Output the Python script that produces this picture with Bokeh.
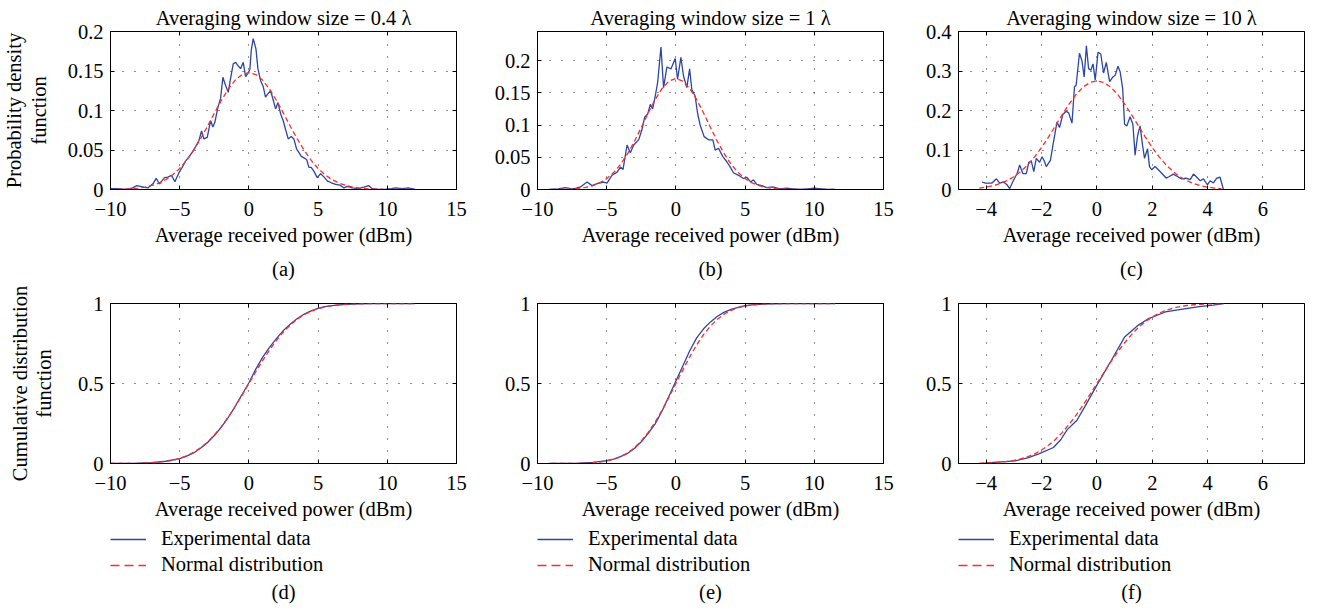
from bokeh.plotting import figure
from bokeh.models import Range1d, FixedTicker, LinearAxis, Legend, LegendItem, Label
from bokeh.layouts import column, row
from bokeh.embed import file_html
from bokeh.resources import INLINE

# ---------------- data ----------------
# (a) PDF, window 0.4 lambda
pdf_a_x = [-10, -9.5, -8.8, -8.4, -8.1, -7.6, -7.3, -6.9, -6.7, -6.45, -6.1, -5.86, -5.59, -5.35, -5.06,
           -4.82, -4.58, -4.34, -4.1, -3.86, -3.61, -3.42, -3.25, -3.01, -2.77, -2.6, -2.46, -2.24, -2.05,
           -1.88, -1.69, -1.49, -1.33, -1.13, -0.96, -0.8, -0.6, -0.41, -0.24, -0.07, 0.07, 0.17, 0.31,
           0.51, 0.65, 0.84, 1.04, 1.2, 1.37, 1.57, 1.76, 1.93, 2.1, 2.29, 2.48, 2.65, 2.84, 3.06, 3.25,
           3.45, 3.61, 3.78, 3.98, 4.17, 4.34, 4.5, 4.7, 4.94, 5.18, 5.42, 5.66, 5.95, 6.27, 6.58, 6.87,
           7.1, 7.47, 7.9, 8.3, 8.65, 8.9, 9.4, 9.9, 10.3, 10.6, 11.1, 11.5, 12.0]
pdf_a_y = [0.001, 0.001, 0.0, 0.002, 0.005, 0.003, 0.002, 0.008, 0.014, 0.007, 0.015, 0.0157, 0.018, 0.0098, 0.021,
           0.028, 0.036, 0.041, 0.047, 0.054, 0.062, 0.074, 0.064, 0.066, 0.087, 0.079, 0.085, 0.104, 0.115,
           0.142, 0.132, 0.123, 0.140, 0.159, 0.161, 0.157, 0.153, 0.161, 0.143, 0.147, 0.152, 0.176, 0.191,
           0.178, 0.153, 0.138, 0.130, 0.117, 0.121, 0.125, 0.113, 0.102, 0.110, 0.096, 0.087, 0.076, 0.064, 0.067, 0.064,
           0.051, 0.047, 0.042, 0.040, 0.038, 0.028, 0.028, 0.023, 0.015, 0.020, 0.016, 0.011, 0.0085, 0.0064, 0.0055, 0.002,
           0.004, 0.002, 0.001, 0.003, 0.005, 0.001, 0.0, 0.0005, 0.001, 0.002, 0.001, 0.002, 0.0]
norm_a_x = [-9.5, -9, -8.5, -8, -7.5, -7, -6.5, -6, -5.5, -5, -4.5, -4, -3.5, -3, -2.5, -2, -1.5, -1, -0.5, 0,
            0.5, 1, 1.5, 2, 2.5, 3, 3.5, 4, 4.5, 5, 5.5, 6, 6.5, 7, 7.5, 8, 8.5, 9, 9.5, 10, 10.5, 11, 11.5, 12]
norm_a_y = [0.0003, 0.0006, 0.0010, 0.0018, 0.0031, 0.0051, 0.0082, 0.0125, 0.0186, 0.0266, 0.0369, 0.0494,
            0.0639, 0.0798, 0.0964, 0.1125, 0.1268, 0.1382, 0.1455, 0.148,
            0.1455, 0.1382, 0.1268, 0.1125, 0.0964, 0.0798, 0.0639, 0.0494, 0.0369, 0.0266, 0.0186, 0.0125,
            0.0082, 0.0051, 0.0031, 0.0018, 0.0010, 0.0006, 0.0003, 0.0002, 0.0001, 0.0, 0.0, 0.0]

# (b) PDF, window 1 lambda
pdf_b_x = [-9.2, -8.5, -8.0, -7.5, -7.2, -6.9, -6.42, -6.06, -5.58, -5.22, -4.98, -4.62, -4.25, -4.0, -3.82,
           -3.53, -3.29, -3.05, -2.69, -2.45, -2.26, -2.04, -1.85, -1.68, -1.49, -1.32, -1.08, -0.89, -0.65,
           -0.36, -0.05, 0.12, 0.36, 0.55, 0.79, 0.99, 1.15, 1.39, 1.56, 1.75, 2.04, 2.36, 2.67, 2.84, 3.08,
           3.39, 3.68, 3.92, 4.16, 4.52, 4.88, 5.12, 5.41, 5.6, 5.84, 6.2, 6.56, 7.0, 7.5, 8.0, 8.5, 9.0,
           9.5, 10.0, 10.5, 11.0, 11.5]
pdf_b_y = [0.0, 0.001, 0.003, 0.001, 0.002, 0.004, 0.0115, 0.006, 0.010, 0.0115, 0.010, 0.022, 0.027, 0.035, 0.031,
           0.069, 0.057, 0.069, 0.077, 0.093, 0.112, 0.117, 0.132, 0.125, 0.145, 0.166, 0.221, 0.158, 0.190,
           0.187, 0.203, 0.171, 0.205, 0.176, 0.158, 0.187, 0.155, 0.145, 0.119, 0.100, 0.082, 0.077, 0.077, 0.061, 0.064,
           0.051, 0.043, 0.035, 0.026, 0.022, 0.017, 0.019, 0.0115, 0.015, 0.008, 0.006, 0.003, 0.004, 0.001, 0.002, 0.001, 0.0,
           0.001, 0.002, 0.001, 0.0, 0.0]
norm_b_x = [-9, -8.5, -8, -7.5, -7, -6.5, -6, -5.5, -5, -4.5, -4, -3.5, -3, -2.5, -2, -1.5, -1, -0.5, 0,
            0.5, 1, 1.5, 2, 2.5, 3, 3.5, 4, 4.5, 5, 5.5, 6, 6.5, 7, 7.5, 8, 8.5, 9, 9.5, 10, 10.5, 11, 11.5]
norm_b_y = [0.0001, 0.0002, 0.0004, 0.0009, 0.0018, 0.0034, 0.0061, 0.0103, 0.0169, 0.0262, 0.0389, 0.0551,
            0.0745, 0.0962, 0.1186, 0.1395, 0.1567, 0.1681, 0.172,
            0.1681, 0.1567, 0.1395, 0.1186, 0.0962, 0.0745, 0.0551, 0.0389, 0.0262, 0.0169, 0.0103, 0.0061,
            0.0034, 0.0018, 0.0009, 0.0004, 0.0002, 0.0001, 0.0, 0.0, 0.0, 0.0, 0.0]

# (c) PDF, window 10 lambda
pdf_c_x = [-4.15, -4.03, -3.79, -3.63, -3.51, -3.37, -3.25, -3.15, -3.03, -2.88, -2.79, -2.67, -2.55, -2.46,
           -2.37, -2.28, -2.19, -2.07, -1.98, -1.9, -1.83, -1.68, -1.56, -1.44, -1.35, -1.23, -1.11, -1.02,
           -0.9, -0.81, -0.75, -0.63, -0.54, -0.46, -0.38, -0.3, -0.22, -0.14, -0.06, 0.04, 0.14, 0.24, 0.34,
           0.46, 0.58, 0.66, 0.76, 0.84, 0.93, 1.0, 1.08, 1.2, 1.3, 1.38, 1.47, 1.56, 1.65, 1.72, 1.83, 1.9,
           1.98, 2.1, 2.22, 2.34, 2.5, 2.62, 2.76, 2.91, 3.06, 3.22, 3.37, 3.49, 3.61, 3.73, 3.85, 3.99, 4.09,
           4.21, 4.33, 4.45, 4.57]
pdf_c_y = [0.019, 0.016, 0.0165, 0.027, 0.016, 0.019, 0.012, 0.0025, 0.021, 0.041, 0.062, 0.040, 0.040, 0.069,
           0.072, 0.045, 0.079, 0.069, 0.083, 0.072, 0.058, 0.074, 0.124, 0.171, 0.157, 0.190, 0.198, 0.194,
           0.168, 0.260, 0.264, 0.345, 0.326, 0.285, 0.364, 0.306, 0.302, 0.318, 0.277, 0.347, 0.343, 0.295, 0.322,
           0.273, 0.285, 0.289, 0.312, 0.298, 0.256, 0.165, 0.161, 0.184, 0.165, 0.087, 0.136, 0.161, 0.112, 0.079, 0.103, 0.058,
           0.050, 0.058, 0.050, 0.041, 0.029, 0.033, 0.039, 0.033, 0.027, 0.029, 0.025, 0.039, 0.031, 0.022, 0.027, 0.012, 0.022,
           0.0165, 0.029, 0.031, 0.0]
norm_c_x = [-4.25, -4, -3.75, -3.5, -3.25, -3, -2.75, -2.5, -2.25, -2, -1.75, -1.5, -1.25, -1, -0.75, -0.5, -0.25, 0,
            0.25, 0.5, 0.75, 1, 1.25, 1.5, 1.75, 2, 2.25, 2.5, 2.75, 3, 3.25, 3.5, 3.75, 4, 4.25, 4.5]
norm_c_y = [0.0037, 0.0061, 0.0097, 0.0149, 0.0223, 0.0323, 0.0455, 0.0622, 0.0825, 0.1062, 0.1327, 0.1610,
            0.1896, 0.2168, 0.2406, 0.2591, 0.2710, 0.275,
            0.2710, 0.2591, 0.2406, 0.2168, 0.1896, 0.1610, 0.1327, 0.1062, 0.0825, 0.0622, 0.0455, 0.0323,
            0.0223, 0.0149, 0.0097, 0.0061, 0.0037, 0.0022]

# (d) CDF, window 0.4 lambda
cdf_d_x = [-10, -9, -8, -7, -6, -5, -4.5, -4, -3.5, -3, -2.5, -2, -1.5, -1, -0.5, 0, 0.5, 1, 1.5, 2, 2.5, 3,
           3.5, 4, 4.5, 5, 5.5, 6, 7, 8, 9, 10, 11, 12]
cdf_d_y = [0.0, 0.001, 0.002, 0.006, 0.014, 0.030, 0.046, 0.066, 0.095, 0.130, 0.175, 0.226, 0.286, 0.356,
           0.430, 0.505, 0.590, 0.665, 0.727, 0.782, 0.832, 0.872, 0.906, 0.934, 0.954, 0.969, 0.980, 0.987,
           0.995, 0.998, 0.999, 0.9995, 1.0, 1.0]
ncdf_d_x = [-10, -9.5, -9, -8.5, -8, -7.5, -7, -6.5, -6, -5.5, -5, -4.5, -4, -3.5, -3, -2.5, -2, -1.5, -1, -0.5, 0,
            0.5, 1, 1.5, 2, 2.5, 3, 3.5, 4, 4.5, 5, 5.5, 6, 6.5, 7, 7.5, 8, 8.5, 9, 9.5, 10, 10.5, 11, 11.5, 12]
ncdf_d_y = [0.0001, 0.0002, 0.0004, 0.0008, 0.0015, 0.0027, 0.0048, 0.0080, 0.0131, 0.0208, 0.0320, 0.0478,
            0.0693, 0.0974, 0.1333, 0.1772, 0.2294, 0.2892, 0.3556, 0.4265, 0.5,
            0.5735, 0.6444, 0.7108, 0.7706, 0.8228, 0.8667, 0.9026, 0.9307, 0.9522, 0.9680, 0.9792, 0.9869,
            0.9920, 0.9952, 0.9973, 0.9985, 0.9992, 0.9996, 0.9998, 0.9999, 1.0, 1.0, 1.0, 1.0]

# (e) CDF, window 1 lambda
cdf_e_x = [-9.2, -8, -7, -6, -5, -4.5, -4, -3.5, -3, -2.5, -2, -1.5, -1, -0.5, 0, 0.5, 1, 1.5, 2, 2.5, 3, 3.5,
           4, 4.5, 5, 5.5, 6, 7, 8, 9, 10, 11.5]
cdf_e_y = [0.0, 0.001, 0.002, 0.007, 0.018, 0.028, 0.043, 0.063, 0.094, 0.136, 0.188, 0.248, 0.328, 0.420,
           0.515, 0.610, 0.705, 0.785, 0.842, 0.885, 0.920, 0.946, 0.963, 0.976, 0.986, 0.992, 0.995, 0.998,
           0.999, 1.0, 1.0, 1.0]
ncdf_e_x = [-9, -8.5, -8, -7.5, -7, -6.5, -6, -5.5, -5, -4.5, -4, -3.5, -3, -2.5, -2, -1.5, -1, -0.5, 0,
            0.5, 1, 1.5, 2, 2.5, 3, 3.5, 4, 4.5, 5, 5.5, 6, 6.5, 7, 7.5, 8, 8.5, 9, 9.5, 10, 10.5, 11, 11.5]
ncdf_e_y = [0.0001, 0.0001, 0.0003, 0.0006, 0.0013, 0.0025, 0.0049, 0.0089, 0.0156, 0.0262, 0.0423, 0.0657,
            0.0980, 0.1406, 0.1943, 0.2589, 0.3332, 0.4147, 0.5,
            0.5853, 0.6668, 0.7411, 0.8057, 0.8594, 0.9020, 0.9343, 0.9577, 0.9738, 0.9844, 0.9911, 0.9951,
            0.9975, 0.9987, 0.9994, 0.9997, 0.9999, 0.9999, 1.0, 1.0, 1.0, 1.0, 1.0]

# (f) CDF, window 10 lambda
cdf_f_x = [-4.16, -3.6, -2.95, -2.5, -2.1, -1.57, -1.3, -1.08, -0.72, -0.42, 0, 0.54, 1.0, 1.5, 1.87, 2.47,
           3.1, 3.7, 4.2, 4.58]
cdf_f_y = [0.0, 0.008, 0.017, 0.035, 0.06, 0.10, 0.15, 0.21, 0.27, 0.36, 0.49, 0.65, 0.79, 0.865, 0.906,
           0.947, 0.965, 0.98, 0.99, 1.0]
ncdf_f_x = [-4.25, -4, -3.75, -3.5, -3.25, -3, -2.75, -2.5, -2.25, -2, -1.75, -1.5, -1.25, -1, -0.75, -0.5, -0.25, 0,
            0.25, 0.5, 0.75, 1, 1.25, 1.5, 1.75, 2, 2.25, 2.5, 2.75, 3, 3.25, 3.5, 3.75, 4, 4.25, 4.5]
ncdf_f_y = [0.0017, 0.0029, 0.0049, 0.0079, 0.0125, 0.0193, 0.0289, 0.0423, 0.0604, 0.0839, 0.1137, 0.1504,
            0.1943, 0.2452, 0.3025, 0.3651, 0.4316, 0.5,
            0.5684, 0.6349, 0.6975, 0.7548, 0.8057, 0.8496, 0.8863, 0.9161, 0.9396, 0.9577, 0.9711, 0.9807,
            0.9875, 0.9921, 0.9951, 0.9971, 0.9983, 0.9990]

titles = ["Averaging window size = 0.4 \u03bb", "Averaging window size = 1 \u03bb",
          "Averaging window size = 10 \u03bb"]
letters = ["(a)", "(b)", "(c)", "(d)", "(e)", "(f)"]
xlabel = "Average received power (dBm)"
ylabel_pdf = "Probability density\nfunction"
ylabel_cdf = "Cumulative distribution\nfunction"
legend_labels = ["Experimental data", "Normal distribution"]

xticks_wide = [-10, -5, 0, 5, 10, 15]
xticks_narrow = [-4, -2, 0, 2, 4, 6]
yticks_a = [0, 0.05, 0.1, 0.15, 0.2]
yticks_b = [0, 0.05, 0.1, 0.15, 0.2]
yticks_c = [0, 0.1, 0.2, 0.3, 0.4]
yticks_cdf = [0, 0.5, 1]

# ---------------- style / layout ----------------
FONT = "Liberation Serif"
FS = "20.5px"
BLUE = "#2b46a6"
RED = "#ff2a2a"
RED_DASH = "5 3"
LEGEND_DASH = "9 5"
MINUS = "\u2212"
FW = 346
COLS = [(110, 34), (47, 37), (38, 8)]       # left / right border of each column
TOP = (31, 158, 66)                          # top row: border top (title), frame, border bottom
FOOT1_H = 25                                 # strip with (a) (b) (c)
BOT = (23, 160, 64)                          # bottom row
FOOT2_H = 78                                 # strip with legend and (d) (e) (f)
NAN = float("nan")


def lab(t):
    return ("%g" % t).replace("-", MINUS)


def strip(col, h):
    left, right = col
    p = figure(width=left + FW + right, height=h, x_range=Range1d(0, 1), y_range=Range1d(0, 1),
               x_axis_type=None, y_axis_type=None, output_backend="svg", toolbar_location=None,
               min_border_left=left, min_border_right=right, min_border_top=0, min_border_bottom=0,
               outline_line_color=None, background_fill_color="white", border_fill_color="white")
    return p


def text_label(p, txt, y):
    p.add_layout(Label(x=FW / 2, y=y, x_units="screen", y_units="screen", text=txt,
                       text_align="center", text_baseline="middle", text_font=FONT,
                       text_font_size=FS, text_color="black"))


def make_panel(series, xr, yr, xticks, yticks, col, dims, title=None, ylabel=None, ylabel_standoff=15):
    left, right = col
    top, fh, bottom = dims
    p = figure(width=left + FW + right, height=top + fh + bottom,
               x_range=Range1d(*xr), y_range=Range1d(*yr),
               output_backend="svg", toolbar_location=None,
               min_border_left=left, min_border_right=right,
               min_border_top=top, min_border_bottom=bottom,
               background_fill_color="white", border_fill_color="white",
               outline_line_color="black", outline_line_width=1)
    for ax, tk in ((p.xaxis[0], xticks), (p.yaxis[0], yticks)):
        ax.ticker = FixedTicker(ticks=tk)
        ax.major_label_overrides = {float(t): lab(t) for t in tk}
        ax.major_label_text_font = FONT
        ax.major_label_text_font_size = FS
        ax.major_label_text_color = "black"
        ax.major_tick_in = 4
        ax.major_tick_out = 0
        ax.major_tick_line_color = "black"
        ax.minor_tick_line_color = None
        ax.axis_line_color = "black"
        ax.axis_label_text_font = FONT
        ax.axis_label_text_font_size = FS
        ax.axis_label_text_font_style = "normal"
        ax.axis_label_text_color = "black"
    p.xaxis[0].major_label_standoff = 12
    p.yaxis[0].major_label_standoff = 7
    p.xaxis[0].axis_label = xlabel
    p.xaxis[0].axis_label_standoff = 5
    if ylabel:
        p.yaxis[0].axis_label = ylabel
        p.yaxis[0].axis_label_standoff = ylabel_standoff
        p.yaxis[0].axis_label_text_line_height = 1.1
    # mirrored ticks on top and right (no labels)
    for loc, tk in (("above", xticks), ("right", yticks)):
        ax2 = LinearAxis(ticker=FixedTicker(ticks=tk), major_label_text_color=None,
                         major_label_text_font_size="1px",
                         major_label_standoff=0, major_tick_in=4, major_tick_out=0,
                         major_tick_line_color="black", minor_tick_line_color=None,
                         axis_line_color=None)
        p.add_layout(ax2, loc)
    for g, tk in ((p.xgrid[0], xticks), (p.ygrid[0], yticks)):
        g.ticker = FixedTicker(ticks=tk)
        g.grid_line_color = "#222222"
        g.grid_line_dash = "1 11"
        g.grid_line_width = 1
    (ex, ey), (nx, ny) = series
    p.line(ex, ey, line_color=BLUE, line_width=1.3)
    p.line(nx, ny, line_color=RED, line_width=1.3, line_dash=RED_DASH)
    if title:
        p.title.text = title
        p.title.align = "center"
        p.title.text_font = FONT
        p.title.text_font_size = FS
        p.title.text_font_style = "normal"
        p.title.text_color = "black"
        p.title.standoff = 6
    return p


def legend_strip(col, letter):
    p = strip(col, FOOT2_H)
    # legend proxies (no visible points)
    r1 = p.line([NAN], [NAN], line_color=BLUE, line_width=1.3)
    r2 = p.line([NAN], [NAN], line_color=RED, line_width=1.3, line_dash=LEGEND_DASH)
    lg = Legend(items=[LegendItem(label=legend_labels[0], renderers=[r1]),
                       LegendItem(label=legend_labels[1], renderers=[r2])],
                location="top_left", orientation="vertical",
                border_line_color=None, background_fill_alpha=0,
                label_text_font=FONT, label_text_font_size=FS, label_text_color="black",
                glyph_width=36, glyph_height=20, label_height=20, label_standoff=15,
                padding=0, margin=0, spacing=3)
    p.add_layout(lg)
    text_label(p, letter, 14)
    return p


pa = make_panel(((pdf_a_x, pdf_a_y), (norm_a_x, norm_a_y)), (-10, 15), (0, 0.2), xticks_wide, yticks_a,
                COLS[0], TOP, title=titles[0], ylabel=ylabel_pdf, ylabel_standoff=15)
pb = make_panel(((pdf_b_x, pdf_b_y), (norm_b_x, norm_b_y)), (-10, 15), (0, 0.245), xticks_wide, yticks_b,
                COLS[1], TOP, title=titles[1])
pc = make_panel(((pdf_c_x, pdf_c_y), (norm_c_x, norm_c_y)), (-5, 7.5), (0, 0.4), xticks_narrow, yticks_c,
                COLS[2], TOP, title=titles[2])

foot1 = []
for i in range(3):
    f = strip(COLS[i], FOOT1_H)
    text_label(f, letters[i], 12)
    foot1.append(f)

pd = make_panel(((cdf_d_x, cdf_d_y), (ncdf_d_x, ncdf_d_y)), (-10, 15), (0, 1), xticks_wide, yticks_cdf,
                COLS[0], BOT, ylabel=ylabel_cdf, ylabel_standoff=20)
pe = make_panel(((cdf_e_x, cdf_e_y), (ncdf_e_x, ncdf_e_y)), (-10, 15), (0, 1), xticks_wide, yticks_cdf,
                COLS[1], BOT)
pf = make_panel(((cdf_f_x, cdf_f_y), (ncdf_f_x, ncdf_f_y)), (-5, 7.5), (0, 1), xticks_narrow, yticks_cdf,
                COLS[2], BOT)

foot2 = [legend_strip(COLS[i], letters[3 + i]) for i in range(3)]

layout = column(row(pa, pb, pc, spacing=0), row(*foot1, spacing=0),
                row(pd, pe, pf, spacing=0), row(*foot2, spacing=0), spacing=0)
open("out.html", "w").write(file_html(layout, INLINE))
